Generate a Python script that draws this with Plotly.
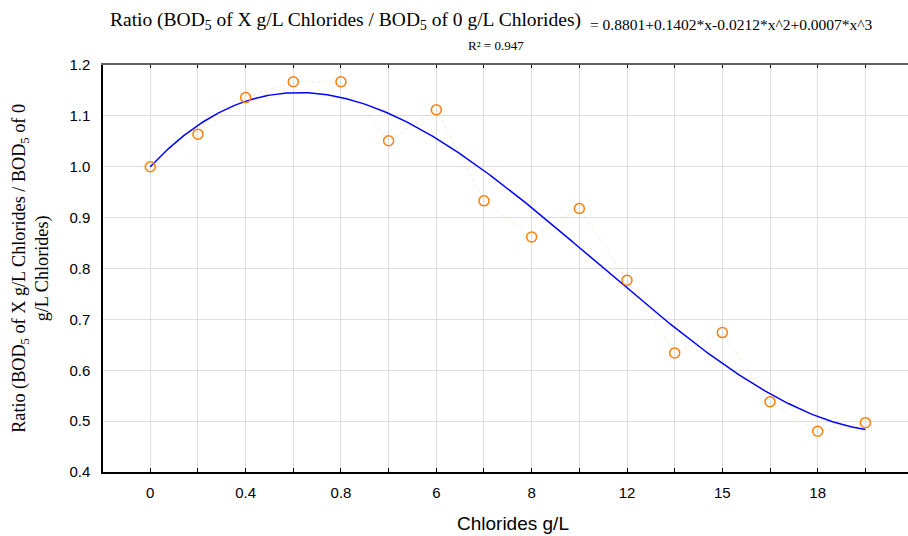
import numpy as np
import plotly.graph_objects as go

# ---- data ----
x_index = list(range(1, 17))
x_labels = ["0", "", "0.4", "", "0.8", "", "6", "", "8", "", "12", "", "15", "", "18", ""]
ratio = [1.000, 1.064, 1.136, 1.167, 1.167, 1.051, 1.112, 0.933,
         0.862, 0.918, 0.777, 0.634, 0.674, 0.538, 0.480, 0.497]
y_ticks = [0.4, 0.5, 0.6, 0.7, 0.8, 0.9, 1.0, 1.1, 1.2]

# cubic regression of the observed points (the fitted line in the chart)
coef = np.polyfit(x_index, ratio, 3)
xf = np.linspace(1, 16, 300)
yf = np.polyval(coef, xf)

W, H = 908, 536
L, T, B, R = 102.7, 64.7, 63.7, 0
pw = W - L - R
ph = H - T - B

def px(p):
    return (p - L) / pw

def py(p):
    return (H - B - p) / ph

fig = go.Figure()
# faint dotted connector between points
fig.add_trace(go.Scatter(x=x_index, y=ratio, mode="lines",
                         line=dict(color="rgba(255,140,40,0.22)", width=1, dash="dot"),
                         hoverinfo="skip", showlegend=False))
fig.add_trace(go.Scatter(x=xf, y=yf, mode="lines",
                         line=dict(color="#0000FF", width=1.5), showlegend=False))
fig.add_trace(go.Scatter(x=x_index, y=ratio, mode="markers",
                         marker=dict(symbol="circle-open", size=10, color="#FF7F0E",
                                     line=dict(width=1.5, color="#FF7F0E")),
                         showlegend=False))
# invisible trace for the top (mirrored) axis
fig.add_trace(go.Scatter(x=[x_index[0]], y=[ratio[0]], xaxis="x2", mode="markers",
                         marker=dict(opacity=0), hoverinfo="skip", showlegend=False))

x_range = [1 - (150 - L) / 47.69, 1 + (W - R - 150) / 47.69]

fig.update_layout(
    width=W, height=H,
    margin=dict(l=L, r=R, t=T, b=B),
    paper_bgcolor="white", plot_bgcolor="white",
    font=dict(family="Liberation Sans, Arial", size=15, color="black"),
    xaxis=dict(range=x_range, tickmode="array", tickvals=x_index, ticktext=x_labels,
               showgrid=True, gridcolor="#dedede", gridwidth=1,
               showline=True, linecolor="black", linewidth=1.5,
               ticks="inside", ticklen=4, tickcolor="black", tickwidth=1,
               zeroline=False, tickfont=dict(size=15), ticklabelstandoff=6),
    xaxis2=dict(overlaying="x", side="top", matches="x", range=x_range,
                tickmode="array", tickvals=x_index, showticklabels=False,
                showline=True, linecolor="#606060", linewidth=2,
                ticks="inside", ticklen=3, tickcolor="black", tickwidth=1,
                showgrid=False, zeroline=False),
    yaxis=dict(range=[0.4, 1.2], tickmode="array", tickvals=y_ticks,
               ticktext=[f"{v:.1f}" for v in y_ticks],
               showgrid=True, gridcolor="#dedede", gridwidth=1,
               showline=True, linecolor="black", linewidth=1.5,
               ticks="", zeroline=False, ticklabelstandoff=8,
               tickfont=dict(size=15)),
)

serif = "Liberation Serif, Times New Roman"
fig.add_annotation(xref="paper", yref="paper", x=px(583), y=py(21),
                   xanchor="right", yanchor="middle", showarrow=False,
                   text="Ratio (BOD<sub>5</sub> of X g/L Chlorides / BOD<sub>5</sub> of 0 g/L Chlorides)",
                   font=dict(family=serif, size=19.5, color="black"))
fig.add_annotation(xref="paper", yref="paper", x=px(588), y=py(24),
                   xanchor="left", yanchor="middle", showarrow=False,
                   text="= 0.8801+0.1402*x-0.0212*x^2+0.0007*x^3",
                   font=dict(family=serif, size=15.5, color="black"))
fig.add_annotation(xref="paper", yref="paper", x=px(496), y=py(45),
                   xanchor="center", yanchor="middle", showarrow=False,
                   text="R² = 0.947",
                   font=dict(family=serif, size=13, color="black"))
fig.add_annotation(xref="paper", yref="paper", x=px(513), y=py(524),
                   xanchor="center", yanchor="middle", showarrow=False,
                   text="Chlorides g/L",
                   font=dict(family="Liberation Sans, Arial", size=19, color="black"))
fig.add_annotation(xref="paper", yref="paper", x=px(31), y=0.5,
                   xanchor="center", yanchor="middle", showarrow=False, textangle=-90,
                   text="Ratio (BOD<sub>5</sub> of X g/L Chlorides / BOD<sub>5</sub> of 0<br>g/L Chlorides)",
                   font=dict(family=serif, size=18.2, color="black"))

fig.write_html("out.html", config={"displayModeBar": False},
               post_script="document.body.style.margin='0px';")
